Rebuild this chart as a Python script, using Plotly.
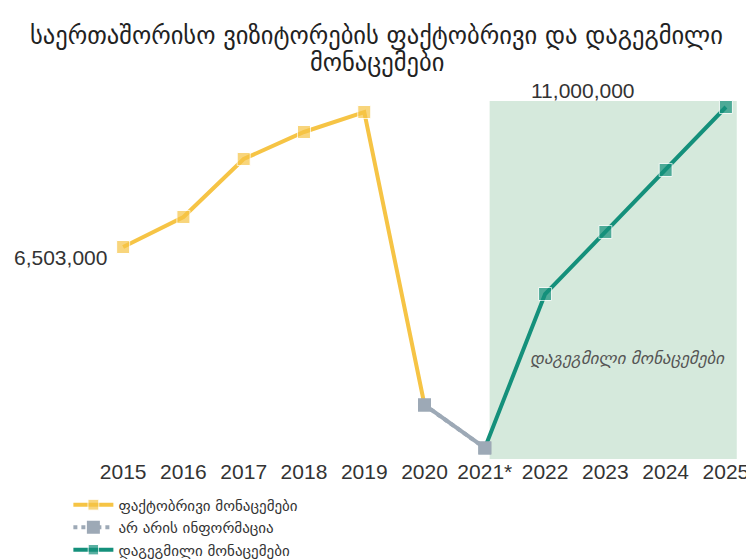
import plotly.graph_objects as go

years = ["2015", "2016", "2017", "2018", "2019", "2020", "2021*", "2022", "2023", "2024", "2025"]
actual_years = ["2015", "2016", "2017", "2018", "2019", "2020"]
actual_values = [6503000, 7467000, 9330000, 10197000, 10839000, 1428000]
noinfo_years = ["2020", "2021*"]
noinfo_values = [1428000, 47000]
planned_years = ["2021*", "2022", "2023", "2024", "2025"]
planned_values = [47000, 4993000, 6985000, 8977000, 11000000]

title_lines = ["საერთაშორისო ვიზიტორების ფაქტობრივი და დაგეგმილი", "მონაცემები"]
legend_names = ["ფაქტობრივი მონაცემები", "არ არის ინფორმაცია", "დაგეგმილი მონაცემები"]
shade_label = "დაგეგმილი მონაცემები"

YELLOW = "#F6C445"
GRAY = "#9DA9B6"
TEAL = "#14907B"
SHADE = "#D5E9DC"
GEO_FONT = "DejaVu Sans"
NUM_FONT = "Liberation Sans"

fig = go.Figure()

# shaded planned region behind the data
fig.add_shape(type="rect", xref="x", yref="y",
              x0=years.index("2021*") + 0.08, x1=years.index("2025") + 0.18,
              y0=-310000, y1=11190000,
              fillcolor=SHADE, line_width=0, layer="below")

msize = 13
fig.add_trace(go.Scatter(
    x=actual_years, y=actual_values, mode="lines+markers", name=legend_names[0],
    line=dict(color=YELLOW, width=4),
    marker=dict(symbol="square", size=[msize] * (len(actual_years) - 1) + [0], color=YELLOW),
    legendrank=1))
fig.add_trace(go.Scatter(
    x=planned_years, y=planned_values, mode="lines+markers", name=legend_names[2],
    line=dict(color=TEAL, width=4),
    marker=dict(symbol="square", size=[0] + [msize] * (len(planned_years) - 1), color=TEAL),
    legendrank=3))
fig.add_trace(go.Scatter(
    x=noinfo_years, y=noinfo_values, mode="lines+markers", name=legend_names[1],
    line=dict(color=GRAY, width=4, dash="dot"),
    marker=dict(symbol="square", size=msize, color=GRAY),
    legendrank=2))
# solid segment drawn on chart (legend shows dotted)
fig.add_trace(go.Scatter(
    x=noinfo_years, y=noinfo_values, mode="lines+markers", showlegend=False,
    line=dict(color=GRAY, width=4),
    marker=dict(symbol="square", size=msize, color=GRAY)))

fig.add_annotation(x=0, y=actual_values[0], xref="x", yref="y",
                   text=f"{actual_values[0]:,}", showarrow=False,
                   xanchor="right", yanchor="middle", xshift=-14, yshift=-11,
                   font=dict(family=NUM_FONT, size=21, color="#333333"))
fig.add_annotation(x=years.index("2023") - 0.37, y=planned_values[-1], xref="x", yref="y",
                   text=f"{planned_values[-1]:,}", showarrow=False,
                   xanchor="center", yanchor="middle", yshift=16,
                   font=dict(family=NUM_FONT, size=21, color="#333333"))
fig.add_annotation(x=years.index("2023") + 0.36, y=2943000, xref="x", yref="y",
                   text=f"<i>{shade_label}</i>", showarrow=False,
                   xanchor="center", yanchor="middle",
                   font=dict(family=GEO_FONT, size=17, color="#555555"))
# title (two lines)
fig.add_annotation(x=0.438, y=1.162, xref="paper", yref="paper",
                   text=title_lines[0], showarrow=False,
                   xanchor="center", yanchor="middle",
                   font=dict(family=GEO_FONT, size=24.5, color="#222222"))
fig.add_annotation(x=0.438, y=1.090, xref="paper", yref="paper",
                   text=title_lines[1], showarrow=False,
                   xanchor="center", yanchor="middle",
                   font=dict(family=GEO_FONT, size=24.5, color="#222222"))

fig.update_layout(
    width=746, height=552,
    paper_bgcolor="white", plot_bgcolor="white",
    margin=dict(l=85, r=13, t=87, b=100, autoexpand=False),
    xaxis=dict(type="category", categoryorder="array", categoryarray=years,
               range=[-0.5, 10.25], showgrid=False, zeroline=False, showline=False,
               automargin=False, ticks="", ticklen=0, ticklabelstandoff=-3,
               tickfont=dict(family=NUM_FONT, size=21, color="#333333")),
    yaxis=dict(range=[-339000, 11385000], visible=False, automargin=False),
    legend=dict(x=-0.038, xanchor="left", y=-0.078, yanchor="top", orientation="v",
                font=dict(family=GEO_FONT, size=15, color="#333333"),
                tracegroupgap=0, itemwidth=40, bgcolor="rgba(0,0,0,0)"),
    showlegend=True,
)

fig.write_html("out.html")
